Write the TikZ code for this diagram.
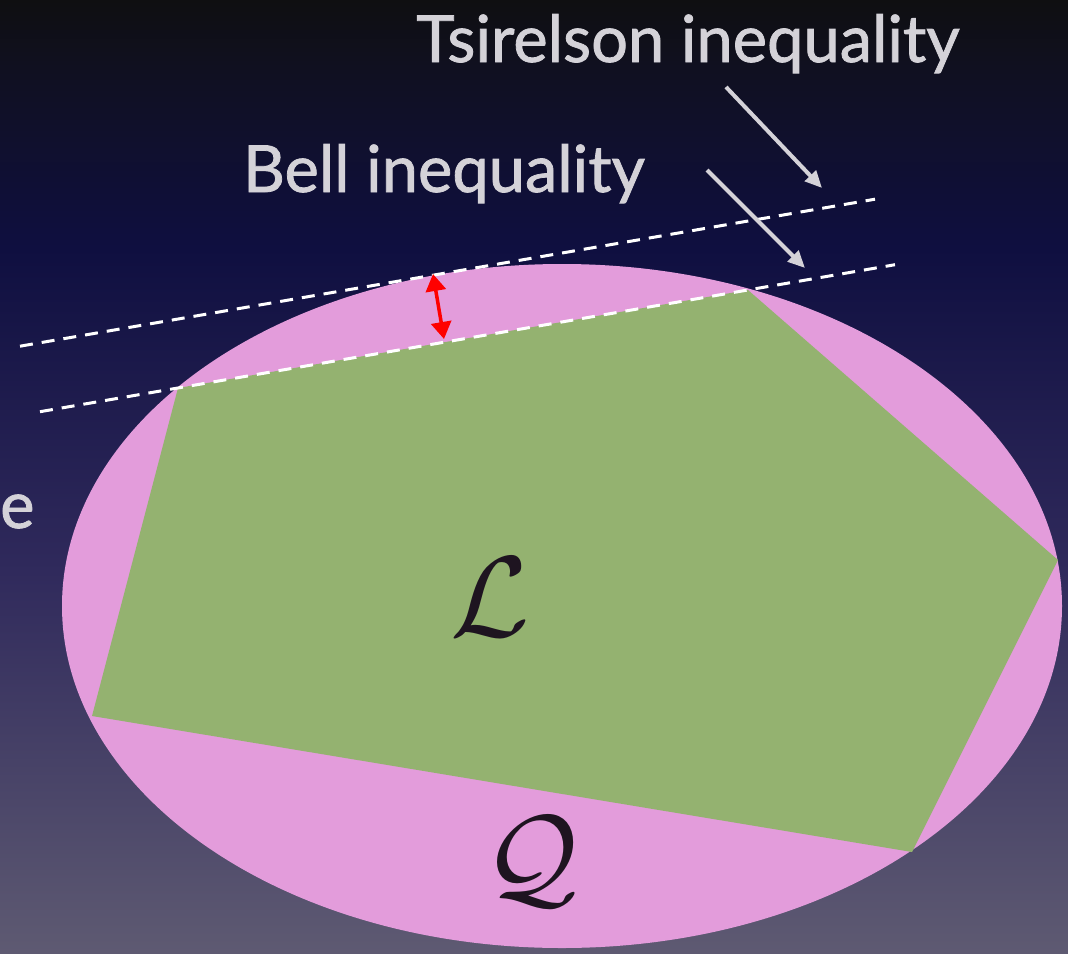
\documentclass[tikz,border=0pt]{standalone}
\usepackage{fontspec}
\setmainfont{Lato}
\newfontfamily\lblfont{Lato}[BoldFont=Lato, BoldFeatures={FakeBold=1.2}]
\usetikzlibrary{arrows.meta}
\definecolor{bgbot}{RGB}{94,90,114}
\definecolor{bgmid}{RGB}{48,42,92}
\definecolor{bgnavy}{RGB}{15,15,64}
\definecolor{bgtopnavy}{RGB}{16,16,34}
\definecolor{bgtop}{RGB}{15,15,17}
\definecolor{pinkc}{RGB}{227,156,219}
\definecolor{greenc}{RGB}{148,178,112}
\definecolor{labelgrey}{RGB}{212,210,216}
\definecolor{glyphc}{RGB}{30,20,32}
\pgfdeclareverticalshading{bgshade}{100bp}{color(0bp)=(bgbot); color(25bp)=(bgbot); color(45bp)=(bgmid); color(62bp)=(bgnavy); color(71bp)=(bgtopnavy); color(75bp)=(bgtop); color(100bp)=(bgtop)}
\tikzset{
  lbl/.style={text=labelgrey, font=\lblfont\bfseries\fontsize{65}{70}\selectfont, inner sep=0pt},
  ineq/.style={draw=white, line width=3pt, dash pattern=on 13pt off 9pt},
  pointer/.style={draw=labelgrey, line width=4pt, -{Triangle[length=17pt,width=15pt]}},
  gap/.style={draw=red, line width=3.5pt, {Triangle[length=17pt,width=20pt]}-{Triangle[length=17pt,width=20pt]}},
  setname/.style={text=glyphc, inner sep=0pt},
}
\begin{document}
\begin{tikzpicture}[x=1pt,y=-1pt]
\useasboundingbox (0,0) rectangle (1068,953);
\shade[shading=bgshade] (0,0) rectangle (1068,953);
% set Q
\fill[pinkc] (562,606) ellipse [x radius=500, y radius=342];
% set L
\fill[greenc] (178,388) -- (748,290) -- (1058,560) -- (912,852) -- (92,716) -- cycle;
% inequalities
\coordinate (b1) at (40,411.7);
\coordinate (b2) at (895,264.7);
\coordinate (t1) at (20,346.2);
\coordinate (t2) at (875,199.2);
\draw[ineq] (t1) -- (t2);
\draw[ineq] (b1) -- (b2);
\coordinate (g1) at (433,274);
\coordinate (g2) at (444,339);
\draw[gap] (g1) -- (g2);
% labels
\node[lbl, anchor=base] (ts) at (688,62) {Tsirelson inequality};
\node[lbl, anchor=base] (bl) at (444,192) {Bell inequality};
\node[lbl, anchor=base west] (ee) at (0,528) {e};
\coordinate (tsend) at (822,188);
\coordinate (blend) at (805,268);
\coordinate (tsstart) at (726,87);
\coordinate (blstart) at (707,170);
\draw[pointer] (tsstart) -- (tsend);
\draw[pointer] (blstart) -- (blend);
\node[setname] (L) at (490,597) {\scalebox{11.5}{$\mathcal{L}$}};
\node[setname] (Q) at (531,862) {\scalebox{11.5}{$\mathcal{Q}$}};
\end{tikzpicture}
\end{document}
